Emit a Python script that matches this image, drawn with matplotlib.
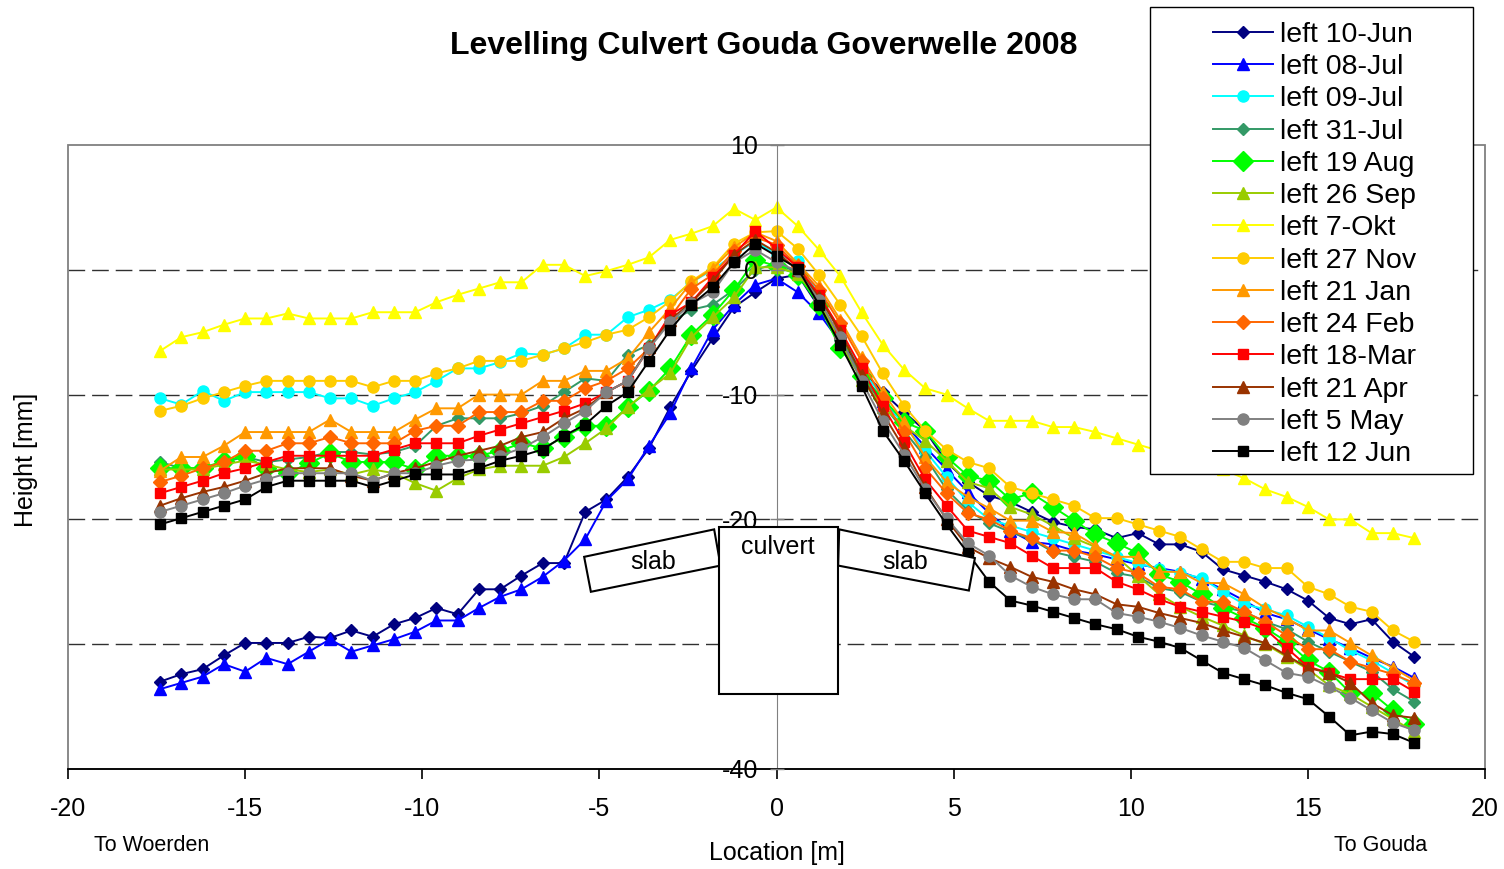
import matplotlib
matplotlib.use('Agg')
import matplotlib.pyplot as plt
from matplotlib.patches import Polygon, Rectangle

plt.rcParams['font.family'] = ['Liberation Sans', 'DejaVu Sans']
plt.rcParams['axes.unicode_minus'] = False

# measuring points along the culvert [m]
location = [-17.4, -16.8, -16.2, -15.6, -15.0, -14.4, -13.8, -13.2, -12.6, -12.0,
            -11.4, -10.8, -10.2, -9.6, -9.0, -8.4, -7.8, -7.2, -6.6, -6.0,
            -5.4, -4.8, -4.2, -3.6, -3.0, -2.4, -1.8, -1.2, -0.6, 0.0,
            0.6, 1.2, 1.8, 2.4, 3.0, 3.6, 4.2, 4.8, 5.4, 6.0,
            6.6, 7.2, 7.8, 8.4, 9.0, 9.6, 10.2, 10.8, 11.4, 12.0,
            12.6, 13.2, 13.8, 14.4, 15.0, 15.6, 16.2, 16.8, 17.4, 18.0]

# heights [mm]
jun10 = [-33.0, -32.4, -32.0, -30.9, -29.9, -29.9, -29.9, -29.4, -29.5, -28.9,
         -29.4, -28.4, -27.9, -27.1, -27.6, -25.6, -25.6, -24.5, -23.5, -23.5,
         -19.4, -18.4, -16.6, -14.3, -11.0, -8.1, -5.5, -3.0, -1.8, -0.7,
         -0.4, -3.0, -5.5, -8.0, -9.8, -11.4, -12.9, -15.4, -17.0, -18.1,
         -18.6, -19.4, -20.2, -20.6, -20.8, -21.5, -21.1, -22.0, -22.0, -22.6,
         -24.0, -24.5, -25.0, -25.6, -26.5, -27.9, -28.4, -28.0, -29.8, -31.0]
jul08 = [-33.6, -33.1, -32.6, -31.6, -32.2, -31.1, -31.6, -30.6, -29.6, -30.6,
         -30.1, -29.6, -29.0, -28.1, -28.1, -27.1, -26.2, -25.6, -24.6, -23.3,
         -21.6, -18.5, -16.8, -14.1, -11.5, -7.9, -4.8, -2.8, -1.2, -0.7,
         -1.8, -3.5, -5.8, -8.3, -10.5, -12.3, -14.2, -16.0, -17.8, -19.5,
         -20.9, -21.8, -22.0, -22.5, -22.8, -23.2, -23.6, -23.9, -24.2, -24.8,
         -25.6, -26.5, -27.5, -28.0, -28.8, -29.6, -30.3, -31.1, -31.8, -32.7]
jul09 = [-10.3, -10.8, -9.7, -10.5, -9.8, -9.8, -9.8, -9.8, -10.3, -10.3,
         -10.9, -10.3, -9.8, -8.9, -7.9, -7.9, -7.4, -6.7, -6.8, -6.3,
         -5.2, -5.2, -3.8, -3.2, -2.4, -1.0, 0.0, 1.2, 2.3, 1.2,
         0.7, -2.0, -5.0, -8.0, -10.2, -12.5, -14.5, -16.6, -18.6, -20.0,
         -20.5, -21.0, -21.5, -22.0, -22.5, -23.0, -23.5, -24.0, -24.3, -24.7,
         -25.8, -26.8, -27.2, -27.7, -28.6, -29.5, -30.5, -31.3, -32.3, -33.3]
jul31 = [-15.4, -15.9, -15.9, -15.4, -15.0, -15.4, -15.2, -15.0, -14.6, -14.6,
         -14.8, -14.6, -14.1, -12.5, -11.9, -11.9, -11.9, -11.5, -10.9, -9.8,
         -8.7, -8.9, -6.8, -6.0, -4.2, -3.2, -2.8, -1.6, 0.0, 0.5,
         -0.2, -2.8, -5.6, -8.5, -10.8, -12.9, -15.0, -17.6, -19.3, -20.3,
         -21.0, -21.6, -22.6, -23.0, -23.4, -24.3, -24.6, -25.5, -25.8, -26.6,
         -27.0, -27.4, -28.2, -28.8, -29.8, -30.6, -31.4, -32.2, -33.6, -34.6]
aug19 = [-15.9, -15.9, -15.9, -15.3, -14.9, -15.9, -16.3, -15.5, -14.7, -15.4,
         -15.4, -15.4, -16.0, -14.9, -14.9, -14.9, -14.5, -13.9, -14.3, -13.4,
         -12.5, -12.5, -11.0, -9.7, -7.9, -5.2, -3.6, -1.6, 0.8, 0.3,
         -0.4, -2.8, -6.3, -8.5, -10.3, -12.2, -12.9, -15.0, -16.5, -16.9,
         -18.4, -17.9, -19.0, -20.1, -21.2, -21.9, -22.7, -24.4, -25.0, -26.0,
         -27.1, -27.9, -28.7, -29.8, -31.3, -32.2, -33.9, -33.9, -35.3, -36.4]
sep26 = [-16.0, -16.0, -16.0, -15.6, -15.3, -15.6, -16.0, -16.2, -16.0, -16.4,
         -16.0, -16.3, -17.1, -17.7, -16.7, -16.0, -15.7, -15.7, -15.7, -15.0,
         -13.9, -12.7, -11.0, -9.6, -8.3, -5.4, -3.8, -2.2, 0.2, 0.2,
         -0.3, -2.5, -5.8, -8.8, -11.0, -12.5, -13.7, -15.3, -17.0, -17.5,
         -19.0, -19.6, -20.5, -21.5, -22.2, -23.0, -24.5, -26.0, -27.0, -27.8,
         -28.5, -29.3, -30.0, -31.0, -32.0, -33.3, -34.0, -35.0, -36.0, -37.0]
okt7 = [-6.5, -5.4, -5.0, -4.4, -3.9, -3.9, -3.5, -3.9, -3.9, -3.9,
        -3.4, -3.4, -3.4, -2.6, -2.0, -1.5, -1.0, -1.0, 0.4, 0.4,
        -0.5, -0.1, 0.4, 1.0, 2.4, 2.9, 3.5, 4.9, 4.0, 5.0,
        3.5, 1.6, -0.5, -3.4, -6.0, -8.0, -9.5, -10.0, -11.1, -12.1,
        -12.1, -12.1, -12.6, -12.6, -13.0, -13.5, -14.0, -14.5, -15.0, -15.5,
        -16.0, -16.7, -17.6, -18.2, -19.0, -20.0, -20.0, -21.1, -21.1, -21.5]
nov27 = [-11.3, -10.9, -10.3, -9.8, -9.3, -8.9, -8.9, -8.9, -8.9, -8.9,
         -9.4, -8.9, -8.9, -8.3, -7.9, -7.3, -7.3, -7.3, -6.8, -6.3,
         -5.8, -5.2, -4.8, -3.8, -2.5, -0.9, 0.2, 2.1, 3.0, 3.1,
         1.7, -0.4, -2.8, -5.3, -8.3, -10.9, -12.9, -14.4, -15.4, -15.9,
         -17.4, -17.9, -18.4, -18.9, -19.9, -19.9, -20.4, -20.9, -21.4, -22.4,
         -23.4, -23.4, -23.9, -23.9, -25.4, -26.0, -27.0, -27.4, -28.9, -29.8]
jan21 = [-16.1, -15.0, -15.0, -14.1, -13.0, -13.0, -13.0, -13.0, -12.0, -13.0,
         -13.0, -13.0, -12.0, -11.1, -11.1, -10.0, -10.0, -10.0, -8.9, -8.9,
         -8.1, -8.1, -7.1, -5.0, -3.1, -1.0, 0.1, 1.8, 3.0, 2.3,
         0.5, -1.3, -4.0, -7.0, -9.8, -12.2, -15.0, -17.0, -18.2, -19.1,
         -20.1, -20.1, -21.0, -21.1, -22.1, -23.0, -23.0, -24.2, -24.2, -25.1,
         -25.1, -26.0, -27.1, -27.9, -28.9, -28.9, -29.9, -30.9, -31.9, -32.9]
feb24 = [-17.0, -16.5, -15.9, -15.4, -14.5, -14.5, -13.9, -13.9, -13.4, -13.9,
         -13.9, -13.9, -12.9, -12.5, -12.5, -11.4, -11.4, -11.4, -10.5, -10.5,
         -9.5, -8.9, -7.9, -6.3, -3.8, -1.5, -0.4, 1.5, 2.6, 2.0,
         0.3, -1.6, -4.3, -7.3, -10.3, -13.0, -15.9, -17.9, -19.5, -20.0,
         -20.9, -21.5, -22.5, -22.5, -23.0, -23.9, -24.3, -25.4, -25.6, -26.6,
         -26.6, -27.4, -28.2, -29.3, -30.4, -30.4, -31.4, -31.9, -32.4, -33.1]
mar18 = [-17.9, -17.4, -16.9, -16.3, -15.9, -15.4, -14.9, -14.9, -14.9, -14.9,
         -14.9, -14.4, -13.9, -13.9, -13.9, -13.3, -12.8, -12.3, -11.8, -11.3,
         -10.7, -9.8, -8.9, -6.3, -3.6, -2.6, -0.6, 1.2, 3.1, 1.7,
         0.2, -2.0, -4.8, -7.9, -10.9, -13.8, -16.8, -18.9, -20.9, -21.4,
         -21.9, -22.9, -23.9, -23.9, -23.9, -25.0, -25.6, -26.4, -27.0, -27.4,
         -27.8, -28.2, -28.8, -30.3, -31.8, -32.3, -32.8, -32.8, -32.8, -33.8]
apr21 = [-18.9, -18.3, -17.8, -17.4, -16.9, -16.3, -15.9, -15.9, -15.9, -16.5,
         -16.9, -16.3, -15.9, -15.4, -14.9, -14.5, -14.1, -13.4, -13.0, -11.9,
         -11.1, -9.8, -8.9, -6.2, -4.0, -2.6, -0.9, 1.2, 2.4, 1.4,
         0.0, -2.2, -5.0, -8.4, -11.5, -14.3, -17.4, -20.0, -22.2, -23.1,
         -23.8, -24.6, -25.0, -25.6, -26.0, -26.8, -27.0, -27.5, -27.9, -28.3,
         -28.9, -29.4, -29.9, -30.9, -31.9, -32.3, -33.1, -34.7, -35.7, -35.9]
may5 = [-19.4, -18.9, -18.4, -17.9, -17.3, -16.8, -16.3, -16.3, -16.3, -16.3,
        -16.9, -16.3, -16.3, -15.7, -15.3, -15.2, -14.9, -14.3, -13.4, -12.3,
        -11.3, -9.8, -8.9, -6.3, -4.2, -2.7, -1.8, 0.6, 1.6, 0.6,
        -0.1, -2.4, -5.4, -8.9, -12.1, -14.8, -17.6, -19.9, -21.9, -22.9,
        -24.5, -25.4, -26.0, -26.4, -26.4, -27.5, -27.8, -28.2, -28.7, -29.3,
        -29.8, -30.3, -31.3, -32.3, -32.6, -33.4, -34.3, -35.3, -36.3, -36.9]
jun12 = [-20.4, -19.9, -19.4, -18.9, -18.4, -17.4, -16.9, -16.9, -16.9, -16.9,
         -17.4, -16.9, -16.4, -16.4, -16.4, -15.9, -15.3, -14.9, -14.4, -13.3,
         -12.4, -10.9, -9.8, -7.3, -4.8, -2.8, -1.4, 0.6, 2.1, 1.1,
         0.1, -2.8, -6.0, -9.3, -12.9, -15.3, -17.9, -20.4, -22.7, -25.0,
         -26.5, -26.9, -27.4, -27.9, -28.4, -28.8, -29.4, -29.8, -30.3, -31.3,
         -32.3, -32.8, -33.3, -33.9, -34.4, -35.8, -37.3, -37.0, -37.2, -37.9]

labels = ['left 10-Jun', 'left 08-Jul', 'left 09-Jul', 'left 31-Jul', 'left 19 Aug',
          'left 26 Sep', 'left 7-Okt', 'left 27 Nov', 'left 21 Jan', 'left 24 Feb',
          'left 18-Mar', 'left 21 Apr', 'left 5 May', 'left 12 Jun']
heights = [jun10, jul08, jul09, jul31, aug19, sep26, okt7, nov27, jan21, feb24,
           mar18, apr21, may5, jun12]
colors = ['#000080', '#0000FF', '#00FFFF', '#339966', '#00FF00', '#99CC00', '#FFFF00',
          '#FFCC00', '#FF9900', '#FF6600', '#FF0000', '#993300', '#808080', '#000000']
markers = ['D', '^', 'o', 'D', 'D', '^', '^', 'o', '^', 'D', 's', '^', 'o', 's']
sizes = [6.6, 8.5, 8, 6.6, 10.5, 8.5, 8.5, 8, 8.5, 7, 7.8, 8.5, 8, 7.8]

xticks = [-20, -15, -10, -5, 0, 5, 10, 15, 20]
yticks = [10, 0, -10, -20, -30, -40]

fig = plt.figure(figsize=(15.04, 8.69), dpi=100)
ax = fig.add_axes([0.045213, 0.115075, 0.942154, 0.718067])

for v in yticks[1:-1]:
    ax.axhline(v, color='#303030', lw=1.0, linestyle=(0, (12, 5)), zorder=1)

handles = []
for lab, h, c, m, s in zip(labels, heights, colors, markers, sizes):
    line, = ax.plot(location, h, color=c, marker=m, markersize=s, mfc=c, mec=c,
                    lw=1.4, label=lab, zorder=2)
    handles.append(line)

ax.set_xlim(-20, 20)
ax.set_ylim(-40, 10)
ax.set_xticks(xticks)
ax.set_yticks(yticks)

ax.spines['left'].set_position(('data', 0))
ax.spines['left'].set_color('#808080')
ax.spines['top'].set_visible(False)
ax.spines['right'].set_visible(False)
ax.spines['bottom'].set_linewidth(1.3)
ax.add_patch(Rectangle((0, 0), 1, 1, transform=ax.transAxes, fill=False,
                       edgecolor='#808080', lw=1.3, clip_on=False, zorder=1))

ax.set_axisbelow(False)
ax.tick_params(axis='x', direction='out', length=7, width=1.2, pad=13, labelsize=18)
ax.tick_params(axis='y', direction='inout', length=10, width=1, color='#808080',
               pad=8, labelsize=18)

ax.set_ylabel('Height [mm]', fontsize=18)
ax.yaxis.set_label_coords(-0.021, 0.495)
ax.text(0.5, -0.135, 'Location [m]', transform=ax.transAxes, ha='center', va='center', fontsize=18)
ax.text(0.0593, -0.122, 'To Woerden', transform=ax.transAxes, ha='center', va='center', fontsize=15.5)
ax.text(0.9266, -0.122, 'To Gouda', transform=ax.transAxes, ha='center', va='center', fontsize=15.5)

# slabs and culvert sketch
slab_left = [(-5.43, -23.0), (-1.76, -20.8), (-1.58, -23.7), (-5.24, -25.8)]
slab_right = [(1.77, -20.8), (5.60, -23.1), (5.43, -25.7), (1.74, -23.7)]
for pts in (slab_left, slab_right):
    ax.add_patch(Polygon(pts, closed=True, facecolor='white', edgecolor='black', lw=1.5, zorder=10))
ax.add_patch(Rectangle((-1.63, -34.0), 3.38, 13.4, facecolor='white', edgecolor='black',
                       lw=1.5, zorder=10))
ax.text(0.04, -22.2, 'culvert', ha='center', va='center', fontsize=18, zorder=11)
ax.text(-3.49, -23.4, 'slab', ha='center', va='center', fontsize=18, zorder=11)
ax.text(3.63, -23.4, 'slab', ha='center', va='center', fontsize=18, zorder=11)

fig.text(0.5077, 1 - 46 / 869, 'Levelling Culvert Gouda Goverwelle 2008', ha='center',
         va='center', fontsize=23, fontweight='bold')

fig.add_artist(Rectangle((1150 / 1504, 1 - 474 / 869), 323 / 1504, 467 / 869,
                         transform=fig.transFigure, facecolor='white', edgecolor='black',
                         lw=1.0, zorder=5))
leg = fig.legend(handles, labels, loc='center', bbox_to_anchor=(1315 / 1504, 1 - 244.5 / 869),
                 frameon=False, fontsize=20.5, labelspacing=0.22, handlelength=2.1,
                 handletextpad=0.25, numpoints=1, borderpad=0)
leg.set_zorder(6)

fig.savefig('out.png', dpi=100)
